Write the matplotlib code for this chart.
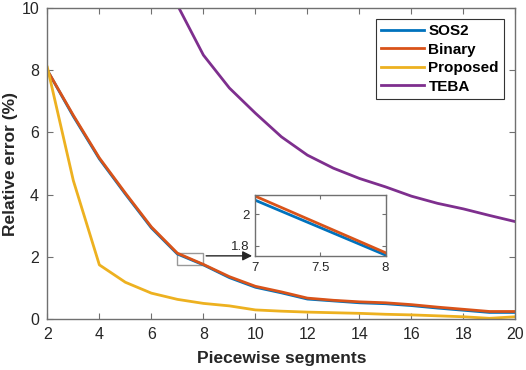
import matplotlib
matplotlib.use("Agg")
import matplotlib.pyplot as plt
from matplotlib.patches import Rectangle

plt.rcParams['font.family'] = ['Liberation Sans', 'DejaVu Sans']

segments = [2, 3, 4, 5, 6, 7, 8, 9, 10, 11, 12, 13, 14, 15, 16, 17, 18, 19, 20]
sos2 = [8.0, 6.52, 5.15, 4.02, 2.93, 2.09, 1.74, 1.33, 1.02, 0.84, 0.64, 0.58, 0.52, 0.49, 0.43, 0.35, 0.28, 0.21, 0.21]
binary = [8.0, 6.55, 5.18, 4.05, 2.96, 2.116, 1.755, 1.36, 1.05, 0.87, 0.67, 0.60, 0.55, 0.52, 0.46, 0.38, 0.31, 0.24, 0.24]
proposed = [8.1, 4.45, 1.74, 1.18, 0.83, 0.63, 0.50, 0.42, 0.29, 0.25, 0.22, 0.20, 0.18, 0.15, 0.13, 0.10, 0.07, 0.02, 0.07]
teba_x = [7, 8, 9, 10, 11, 12, 13, 14, 15, 16, 17, 18, 19, 20]
teba = [10.1, 8.49, 7.43, 6.62, 5.86, 5.27, 4.85, 4.52, 4.25, 3.95, 3.72, 3.54, 3.33, 3.13]

labels = ['SOS2', 'Binary', 'Proposed', 'TEBA']
colors = ['#0072BD', '#D95319', '#EDB120', '#7E2F8E']
spine_c = '#707070'

fig = plt.figure(figsize=(5.26, 3.70), dpi=100)
ax = fig.add_axes([0.090, 0.138, 0.890, 0.840])
ax.plot(segments, sos2, color=colors[0], lw=2, label=labels[0])
ax.plot(segments, binary, color=colors[1], lw=2, label=labels[1])
ax.plot(segments, proposed, color=colors[2], lw=2, label=labels[2])
ax.plot(teba_x, teba, color=colors[3], lw=2, label=labels[3])
ax.set_xlim(2, 20)
ax.set_ylim(0, 10)
ax.set_xticks([2, 4, 6, 8, 10, 12, 14, 16, 18, 20])
ax.set_yticks([0, 2, 4, 6, 8, 10])
ax.tick_params(direction='in', top=True, right=True, labelsize=11.5, length=4,
               color=spine_c, labelcolor='#262626', pad=6)
for s in ax.spines.values():
    s.set_color(spine_c)
    s.set_linewidth(1.0)
ax.set_xlabel('Piecewise segments', fontsize=12.5, fontweight='bold', color='#262626', labelpad=6)
ax.set_ylabel('Relative error (%)', fontsize=12.5, fontweight='bold', color='#262626', labelpad=2)

leg = ax.legend(loc='upper right', bbox_to_anchor=(0.976, 0.966), frameon=True, fancybox=False,
                edgecolor='#333333', framealpha=1, borderpad=0.35, labelspacing=0.3,
                handlelength=2.8, handletextpad=0.3, borderaxespad=0.0,
                prop={'weight': 'bold', 'size': 11})
leg.get_frame().set_linewidth(0.8)

# zoom rectangle and arrow
ylo, yhi = 1.734, 2.123
ax.add_patch(Rectangle((7, ylo), 1, yhi - ylo, fill=False, edgecolor='#999999', lw=1.0))
ax.annotate('', xy=(9.98, 2.03), xytext=(8, 2.03),
            arrowprops=dict(arrowstyle='-|>', color='#262626', lw=1.0, mutation_scale=14))

axin = fig.add_axes([0.485, 0.308, 0.248, 0.165])
axin.plot(segments, sos2, color=colors[0], lw=2)
axin.plot(segments, binary, color=colors[1], lw=2)
axin.set_xlim(7, 8)
axin.set_ylim(ylo, yhi)
axin.set_xticks([7, 7.5, 8])
axin.set_xticklabels(['7', '7.5', '8'])
axin.set_yticks([1.8, 2.0])
axin.set_yticklabels(['1.8', '2'])
axin.tick_params(direction='in', top=True, right=True, labelsize=9.5, length=3,
                 color=spine_c, labelcolor='#262626', pad=4)
for s in axin.spines.values():
    s.set_color(spine_c)
    s.set_linewidth(1.0)

fig.savefig('out.png', dpi=100)
